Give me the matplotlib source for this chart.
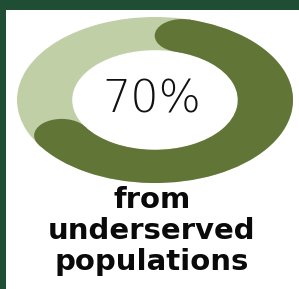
import matplotlib
matplotlib.use("Agg")
import matplotlib.pyplot as plt
from matplotlib.patches import Wedge, Ellipse, Rectangle
import numpy as np

# data
share_pct = 70
labels = ["Underserved", "Other"]
values = [share_pct, 100 - share_pct]
center_label = f"{share_pct}%"
caption_lines = ["from", "underserved", "populations"]

W, H = 299, 289
fig = plt.figure(figsize=(W / 100, H / 100), dpi=100)
fig.patch.set_facecolor("white")

# background axes in pixel coordinates
bg = fig.add_axes([0, 0, 1, 1])
bg.set_xlim(0, W)
bg.set_ylim(H, 0)
bg.axis("off")
border_col = "#1f4e35"
bg.add_patch(Rectangle((0, 0), W, 10, color=border_col, lw=0))
bg.add_patch(Rectangle((0, 0), 6, H, color=border_col, lw=0))

# donut axes (non-equal aspect -> elliptical ring)
x0, x1, y0, y1 = 17, 293, 17, 183
ax = fig.add_axes([x0 / W, 1 - y1 / H, (x1 - x0) / W, (y1 - y0) / H])
ax.set_xlim(-1, 1)
ax.set_ylim(-1, 1)
ax.set_aspect("auto")
ax.axis("off")

dark = "#607536"
light = "#c0cfa6"
r_out, width = 1.0, 0.4
r_mid = r_out - width / 2

ax.add_patch(Wedge((0, 0), r_out, 0, 360, width=width, color=light, lw=0))

total = sum(values)
span = 360 * values[0] / total
cap = np.degrees((width / 2) / r_mid)
start = 90 - cap              # first cap centre (clockwise from top)
end = 90 - span + cap         # second cap centre
ax.add_patch(Wedge((0, 0), r_out, end, start, width=width, color=dark, lw=0))
for a in (start, end):
    t = np.radians(a)
    ax.add_patch(Ellipse((r_mid * np.cos(t), r_mid * np.sin(t)), width, width,
                         color=dark, lw=0))

bg.text(152, 100, center_label, ha="center", va="center", fontsize=32,
        family="DejaVu Sans", fontweight="light", color="#111111")

bg.text(152, 270, "\n".join(caption_lines), ha="center", va="baseline",
        multialignment="center", fontsize=21, linespacing=1.13,
        family="DejaVu Sans", fontweight="bold", color="#0a0a0a")

fig.savefig("out.png", dpi=100, facecolor="white")
